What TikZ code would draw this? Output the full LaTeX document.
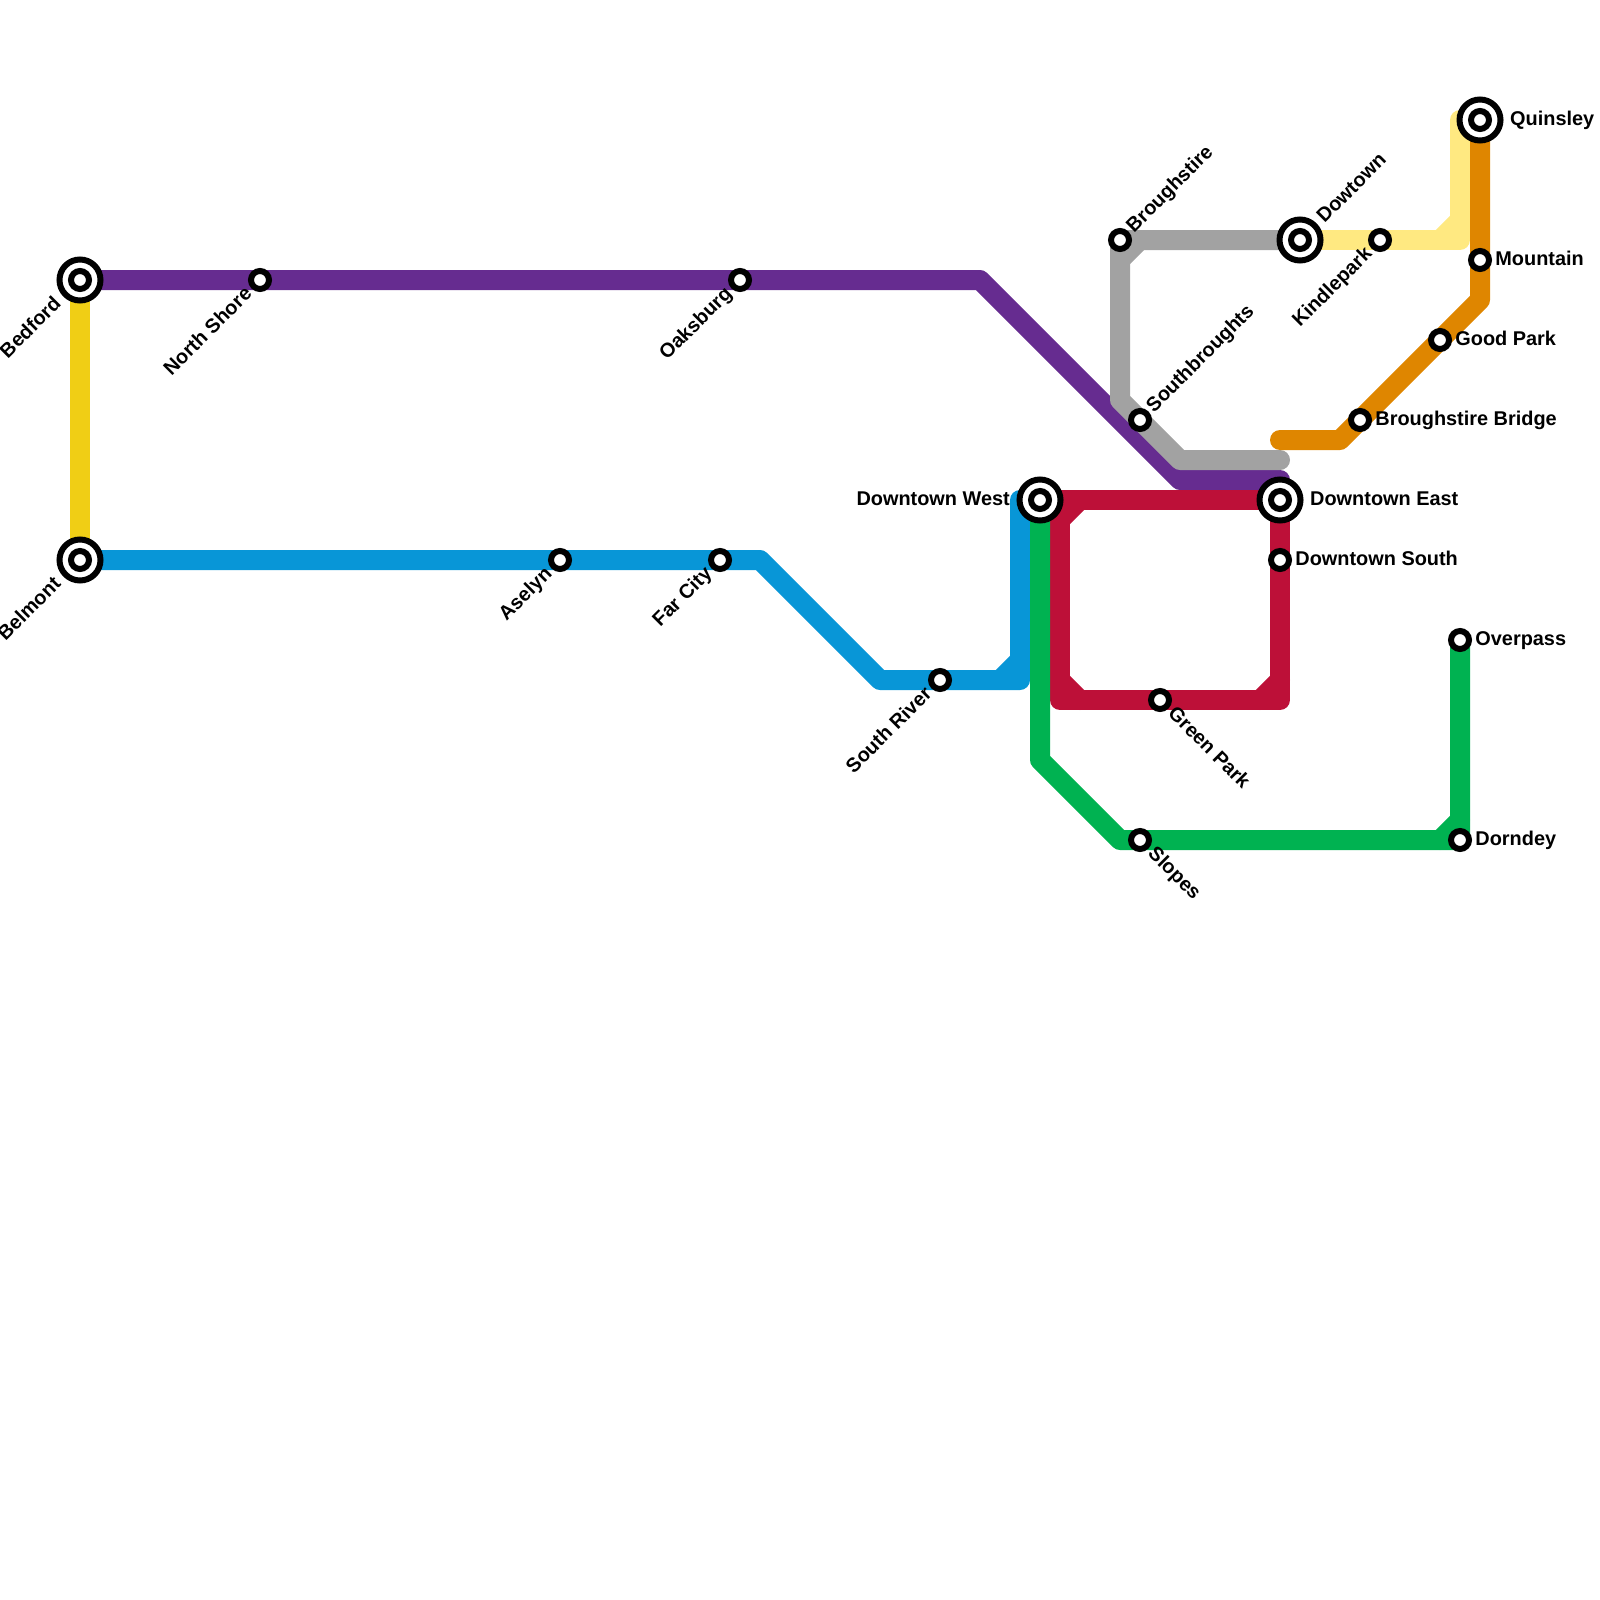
\documentclass[tikz,border=0pt]{standalone}
\usepackage{fontspec}
\setmainfont{Liberation Sans}
\usetikzlibrary{backgrounds}
\definecolor{metropurple}{HTML}{662C90}
\definecolor{metroyellow}{HTML}{F0CE15}
\definecolor{metroblue}{HTML}{0896D7}
\definecolor{metrored}{HTML}{BD1038}
\definecolor{metrogreen}{HTML}{00B251}
\definecolor{metrogray}{HTML}{A2A2A2}
\definecolor{metroorange}{HTML}{DF8600}
\definecolor{metropale}{HTML}{FFE981}
\begin{document}
\begin{tikzpicture}[
  x=1pt, y=-1pt,
  track/.style={line width=20pt, line cap=round, line join=round},
  station/.style={circle, draw=black, fill=white, line width=6pt,
                  minimum size=18pt, inner sep=0pt},
  hub/.style={circle, draw=black, fill=white, line width=6pt,
              minimum size=41pt, inner sep=0pt},
  stationtext/.style={font=\fontsize{19.9}{24}\selectfont\bfseries, inner sep=0pt},
  eastname/.style={stationtext, anchor=base west, xshift=15.2pt, yshift=-5pt},
  hubeast/.style={stationtext, anchor=base west, xshift=30pt, yshift=-5pt},
  hubwest/.style={stationtext, anchor=base east, xshift=-30pt, yshift=-5pt},
  upname/.style={stationtext, xshift=14pt, yshift=6.5pt, rotate=45, anchor=base west},
  hubup/.style={stationtext, xshift=24.5pt, yshift=16pt, rotate=45, anchor=base west},
  downname/.style={stationtext, xshift=-7pt, yshift=-15pt, rotate=45, anchor=base east},
  hubdown/.style={stationtext, xshift=-18pt, yshift=-25pt, rotate=45, anchor=base east},
  slopename/.style={stationtext, xshift=7pt, yshift=-14.5pt, rotate=-45, anchor=base west}
]
\useasboundingbox (0,0) rectangle (1600,1600);

% Stations
\node[hub] (bedford) at (80,280) {};
\node[station] (bedfordcore) at (bedford) {};
\node[hub] (belmont) at (80,560) {};
\node[station] (belmontcore) at (belmont) {};
\node[hub] (downtownwest) at (1040,500) {};
\node[station] (downtownwestcore) at (downtownwest) {};
\node[hub] (downtowneast) at (1280,500) {};
\node[station] (downtowneastcore) at (downtowneast) {};
\node[hub] (dowtown) at (1300,240) {};
\node[station] (dowtowncore) at (dowtown) {};
\node[hub] (quinsley) at (1480,120) {};
\node[station] (quinsleycore) at (quinsley) {};
\node[station] (northshore) at (260,280) {};
\node[station] (oaksburg) at (740,280) {};
\node[station] (aselyn) at (560,560) {};
\node[station] (farcity) at (720,560) {};
\node[station] (southriver) at (940,680) {};
\node[station] (broughstire) at (1120,240) {};
\node[station] (southbroughts) at (1140,420) {};
\node[station] (kindlepark) at (1380,240) {};
\node[station] (mountain) at (1480,260) {};
\node[station] (goodpark) at (1440,340) {};
\node[station] (bridge) at (1360,420) {};
\node[station] (downtownsouth) at (1280,560) {};
\node[station] (greenpark) at (1160,700) {};
\node[station] (slopes) at (1140,840) {};
\node[station] (overpass) at (1460,640) {};
\node[station] (dorndey) at (1460,840) {};

% Bends
\coordinate (purplea) at (980,280);
\coordinate (purpleb) at (1180,480);
\coordinate (purpleend) at (1280,480);
\coordinate (bluea) at (760,560);
\coordinate (blueb) at (880,680);
\coordinate (bluec) at (1020,680);
\coordinate (blued) at (1020,500);
\coordinate (bluecuta) at (1000,680);
\coordinate (bluecutb) at (1020,660);
\coordinate (greena) at (1040,760);
\coordinate (greenb) at (1120,840);
\coordinate (greencuta) at (1440,840);
\coordinate (greencutb) at (1460,820);
\coordinate (reda) at (1280,700);
\coordinate (redb) at (1060,700);
\coordinate (redc) at (1060,500);
\coordinate (redcuta) at (1060,520);
\coordinate (redcutb) at (1080,500);
\coordinate (redcutc) at (1060,680);
\coordinate (redcutd) at (1080,700);
\coordinate (redcute) at (1280,680);
\coordinate (redcutf) at (1260,700);
\coordinate (graya) at (1120,400);
\coordinate (grayb) at (1180,460);
\coordinate (grayend) at (1280,460);
\coordinate (graycuta) at (1120,260);
\coordinate (graycutb) at (1140,240);
\coordinate (palea) at (1460,240);
\coordinate (paleb) at (1460,120);
\coordinate (palecuta) at (1440,240);
\coordinate (palecutb) at (1460,220);
\coordinate (orangea) at (1480,300);
\coordinate (orangeb) at (1340,440);
\coordinate (orangeend) at (1280,440);

% Lines
\begin{scope}[on background layer]
\draw[track, metroyellow] (bedford.center) -- (belmont.center);
\draw[track, metropurple] (bedford.center) -- (northshore.center) -- (oaksburg.center)
  -- (purplea) -- (purpleb) -- (purpleend);
\draw[track, metroblue] (belmont.center) -- (aselyn.center) -- (farcity.center)
  -- (bluea) -- (blueb) -- (southriver.center) -- (bluec) -- (blued) -- (downtownwest.center);
\draw[track, metroblue] (bluecuta) -- (bluecutb);
\draw[track, metrored] (downtownwest.center) -- (downtowneast.center) -- (downtownsouth.center)
  -- (reda) -- (greenpark.center) -- (redb) -- (redc);
\draw[track, metrored] (redcuta) -- (redcutb);
\draw[track, metrored] (redcutc) -- (redcutd);
\draw[track, metrored] (redcute) -- (redcutf);
\draw[track, metrogreen] (downtownwest.center) -- (greena) -- (greenb) -- (slopes.center)
  -- (dorndey.center) -- (overpass.center);
\draw[track, metrogreen] (greencuta) -- (greencutb);
\draw[track, metrogray] (dowtown.center) -- (broughstire.center) -- (graya)
  -- (southbroughts.center) -- (grayb) -- (grayend);
\draw[track, metrogray] (graycuta) -- (graycutb);
\draw[track, metropale] (dowtown.center) -- (kindlepark.center) -- (palea) -- (paleb)
  -- (quinsley.center);
\draw[track, metropale] (palecuta) -- (palecutb);
\draw[track, metroorange] (quinsley.center) -- (mountain.center) -- (orangea)
  -- (goodpark.center) -- (bridge.center) -- (orangeb) -- (orangeend);
\end{scope}

% Labels
\node[hubdown] (bedfordtext) at (bedford) {Bedford};
\node[hubdown] (belmonttext) at (belmont) {Belmont};
\node[downname] (northshoretext) at (northshore) {North Shore};
\node[downname] (oaksburgtext) at (oaksburg) {Oaksburg};
\node[downname] (aselyntext) at (aselyn) {Aselyn};
\node[downname] (farcitytext) at (farcity) {Far City};
\node[downname] (southrivertext) at (southriver) {South River};
\node[downname] (kindleparktext) at (kindlepark) {Kindlepark};
\node[upname] (broughstiretext) at (broughstire) {Broughstire};
\node[upname] (southbroughtstext) at (southbroughts) {Southbroughts};
\node[hubup] (dowtowntext) at (dowtown) {Dowtown};
\node[hubeast] (quinsleytext) at (quinsley) {Quinsley};
\node[eastname] (mountaintext) at (mountain) {Mountain};
\node[eastname] (goodparktext) at (goodpark) {Good Park};
\node[eastname] (bridgetext) at (bridge) {Broughstire Bridge};
\node[hubeast] (downtowneasttext) at (downtowneast) {Downtown East};
\node[hubwest] (downtownwesttext) at (downtownwest) {Downtown West};
\node[eastname] (downtownsouthtext) at (downtownsouth) {Downtown South};
\node[slopename] (greenparktext) at (greenpark) {Green Park};
\node[slopename] (slopestext) at (slopes) {Slopes};
\node[eastname] (overpasstext) at (overpass) {Overpass};
\node[eastname] (dorndeytext) at (dorndey) {Dorndey};

\end{tikzpicture}
\end{document}
